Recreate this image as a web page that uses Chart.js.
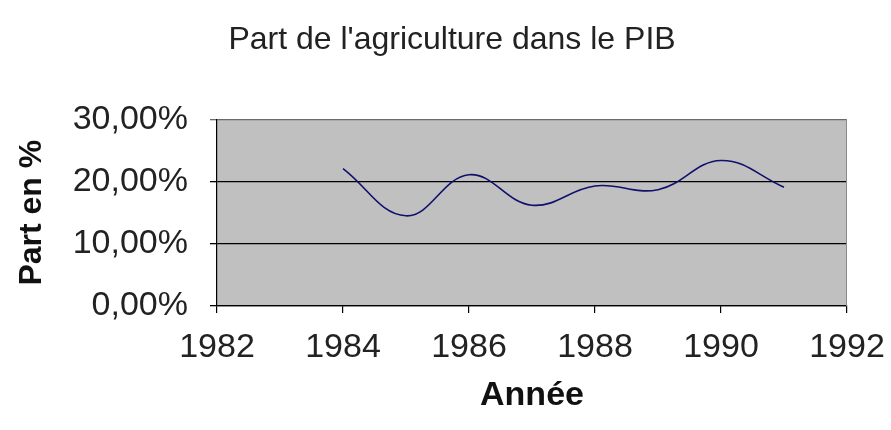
<!DOCTYPE html>
<html>
<head>
<meta charset="utf-8">
<script src="https://cdn.jsdelivr.net/npm/chart.js@4.4.0/dist/chart.umd.min.js"></script>
<style>
  html, body { margin: 0; padding: 0; background: #ffffff; }
  #wrap { width: 891px; height: 430px; }
</style>
</head>
<body>
<div id="wrap"><canvas id="agri-chart" width="891" height="430"></canvas></div>
<script>
// ---------------- data ----------------
const years = [ 1984, 1985, 1986, 1987, 1988, 1989, 1990, 1991 ];
const share = [ 22.1, 14.5, 21.1, 16.2, 19.3, 18.7, 23.4, 19.1 ];   // % of GDP
const y_ticks = [ 0, 10, 20, 30 ];
const x_ticks = [ 1982, 1984, 1986, 1988, 1990, 1992 ];

const points = years.map( ( yr, i ) => ( { x: yr, y: share[ i ] } ) );

const font_family = "'Liberation Sans', Arial, sans-serif";

// gray plot area + right edge
const plot_bg = {
    id: 'plot_bg',
    beforeDraw( chart ) {
        const { ctx, chartArea: a } = chart;
        ctx.save();
        ctx.fillStyle = '#c0c0c0';
        ctx.fillRect( a.left, a.top, a.right - a.left, a.bottom - a.top );
        ctx.restore();
    },
    afterDraw( chart ) {
        const { ctx, chartArea: a } = chart;
        ctx.save();
        ctx.strokeStyle = '#8a8a8a';
        ctx.lineWidth = 1;
        ctx.beginPath();
        ctx.moveTo( a.right - 0.5, a.top );
        ctx.lineTo( a.right - 0.5, a.bottom );
        ctx.stroke();
        ctx.restore();
    }
};

new Chart( document.getElementById( 'agri-chart' ), {
    type: 'line',
    data: {
        datasets: [ {
            data: points,
            borderColor: '#10106e',
            borderWidth: 1.6,
            pointRadius: 0,
            tension: 0.4,
            fill: false
        } ]
    },
    options: {
        responsive: false,
        animation: false,
        layout: { padding: { left: 13, right: 0, top: 0, bottom: 0 } },
        plugins: {
            legend: { display: false },
            tooltip: { enabled: false },
            title: {
                display: true,
                text: "Part de l'agriculture dans le PIB",
                color: '#222',
                font: { family: font_family, size: 32, weight: 'normal' },
                padding: { top: 21, bottom: 60 }
            }
        },
        scales: {
            x: {
                type: 'linear',
                min: 1982,
                max: 1992,
                afterBuildTicks: ( s ) => { s.ticks = x_ticks.map( v => ( { value: v } ) ); },
                afterFit: ( s ) => { s.height = 124; s.paddingRight = 44; },
                ticks: {
                    color: '#222',
                    font: { family: font_family, size: 34 },
                    padding: 14,
                    callback: ( v ) => String( v )
                },
                grid: { drawOnChartArea: false, tickLength: 7, color: '#000', lineWidth: 1.2 },
                border: { display: true, color: '#000', width: 1.2 },
                title: {
                    display: true,
                    text: 'Année',
                    color: '#111',
                    font: { family: font_family, size: 34, weight: 'bold' },
                    padding: { top: 0, bottom: 14 }
                }
            },
            y: {
                min: 0,
                max: 30,
                afterBuildTicks: ( s ) => { s.ticks = y_ticks.map( v => ( { value: v } ) ); },
                afterFit: ( s ) => { s.width = 204; },
                ticks: {
                    color: '#222',
                    font: { family: font_family, size: 34 },
                    padding: 22,
                    callback: ( v ) => v.toFixed( 2 ).replace( '.', ',' ) + '%'
                },
                grid: {
                    tickLength: 7,
                    lineWidth: 1.3,
                    color: ( c ) => c.tick && c.tick.value === 30 ? '#6a6a6a' : '#000'
                },
                border: { display: true, color: '#000', width: 1.2 },
                title: {
                    display: true,
                    text: 'Part en %',
                    color: '#111',
                    font: { family: font_family, size: 32, weight: 'bold' },
                    padding: { top: 0, bottom: 6 }
                }
            }
        }
    },
    plugins: [ plot_bg ]
} );
</script>
</body>
</html>
